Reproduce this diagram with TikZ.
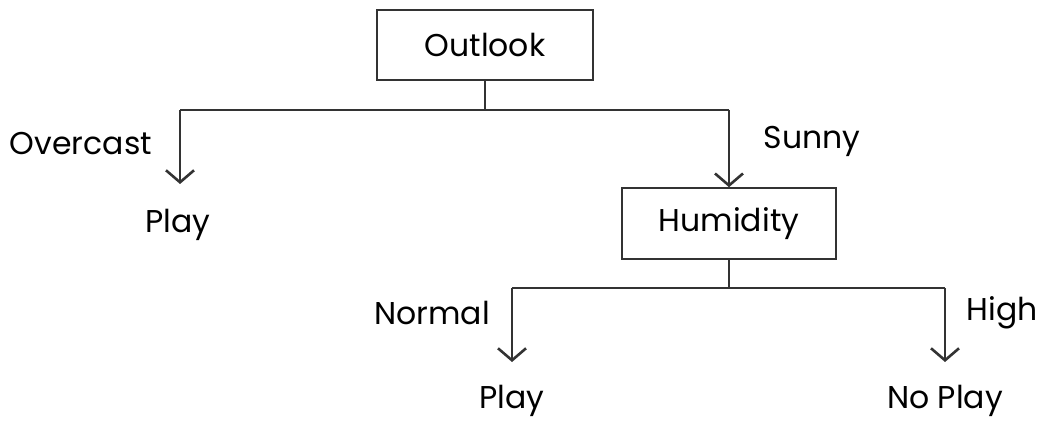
\documentclass[tikz,border=0pt]{standalone}
\usepackage{fontspec}
\setmainfont{Poppins}
\usetikzlibrary{arrows.meta}
\definecolor{ln}{HTML}{333333}
\begin{document}
\begin{tikzpicture}[x=1pt,y=-1pt,
  box/.style={draw=ln,line width=1.6pt,minimum width=216pt,minimum height=70pt,inner sep=0pt,font=\fontsize{31.5}{36}\selectfont},
  lbl/.style={inner sep=0pt,font=\fontsize{31.5}{36}\selectfont},
  conn/.style={draw=ln,line width=2.6pt},
  arr/.style={conn,-{Straight Barb[length=12pt,width=28pt,line width=2.6pt]}}]
\useasboundingbox (0,0) rectangle (1045,425);
\node[box] (outlook) at (485,45) {Outlook};
\node[box,minimum width=214pt,minimum height=71pt] (humidity) at (729,223.5) {Humidity};
\coordinate (j1) at (485,110);
\coordinate (l1) at (180,110);
\coordinate (r1) at (729,110);
\coordinate (j2) at (729,288);
\coordinate (l2) at (512,288);
\coordinate (r2) at (945,288);
\node[lbl] (play1) at (178,225) {Play};
\node[lbl] (overcast) at (81,144) {Overcast};
\node[lbl] (sunny) at (812,141) {Sunny};
\node[lbl] (normal) at (432,313) {Normal};
\node[lbl] (high) at (1002,313) {High};
\node[lbl] (play2) at (512,401) {Play};
\node[lbl] (noplay) at (945,401) {No Play};
\coordinate (t1) at (180,184);
\coordinate (t3) at (512,362);
\coordinate (t4) at (945,362);
\draw[conn] (outlook.south) -- (j1);
\draw[conn] (l1) -- (r1);
\draw[arr] (l1) -- (t1);
\draw[arr] (r1) -- (humidity.north);
\draw[conn] (humidity.south) -- (j2);
\draw[conn] (l2) -- (r2);
\draw[arr] (l2) -- (t3);
\draw[arr] (r2) -- (t4);
\end{tikzpicture}
\end{document}
